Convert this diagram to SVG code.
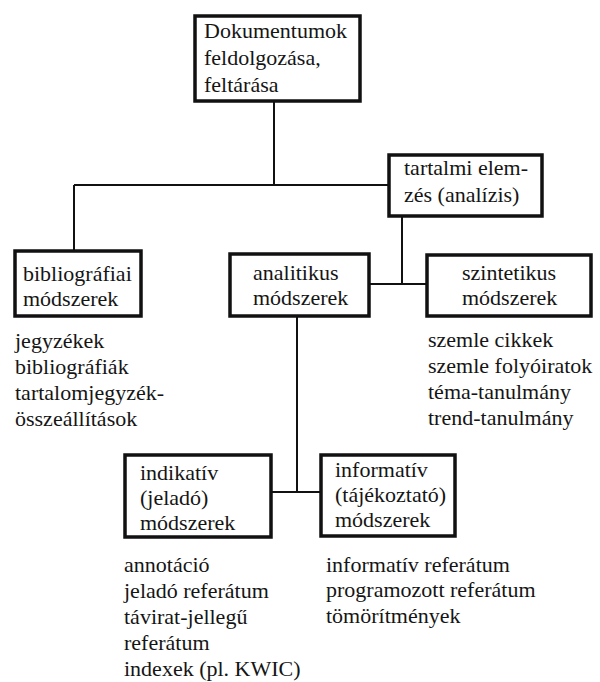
<svg xmlns="http://www.w3.org/2000/svg" width="600" height="682" viewBox="0 0 600 682">
  <style>
    .box { fill: #ffffff; stroke: #111111; stroke-width: 3.5; }
    .wire { fill: none; stroke: #111111; stroke-width: 2; }
    .lbl { font-size: 22px; fill: #151515; }
  </style>
  <rect width="600" height="682" fill="#ffffff"/>

  <!-- connectors -->
  <g id="connectors">
    <path class="wire" d="M274 101 V185"/>
    <path class="wire" d="M74 185 H389"/>
    <path class="wire" d="M74 185 V251"/>
    <path class="wire" d="M402 216 V284"/>
    <path class="wire" d="M369 284 H427"/>
    <path class="wire" d="M297 316 V492"/>
    <path class="wire" d="M271 492 H321"/>
  </g>

  <g font-family="Liberation Serif, DejaVu Serif, serif" class="lbl">
  <g id="root">
    <rect class="box" x="195" y="16" width="165" height="85"/>
    <text x="204" y="38">Dokumentumok</text>
    <text x="204" y="65">feldolgozása,</text>
    <text x="204" y="92">feltárása</text>
  </g>

  <g id="tartalmi">
    <rect class="box" x="389" y="155" width="153" height="61"/>
    <text x="404" y="175">tartalmi elem-</text>
    <text x="404" y="202">zés (analízis)</text>
  </g>

  <g id="bibliografiai">
    <rect class="box" x="15" y="251" width="126" height="65"/>
    <text x="23" y="281">bibliográfiai</text>
    <text x="23" y="306">módszerek</text>
    <text x="15" y="348">jegyzékek</text>
    <text x="15" y="374">bibliográfiák</text>
    <text x="15" y="400">tartalomjegyzék-</text>
    <text x="15" y="426">összeállítások</text>
  </g>

  <g id="analitikus">
    <rect class="box" x="230" y="254" width="139" height="62"/>
    <text x="253" y="280">analitikus</text>
    <text x="253" y="305">módszerek</text>
  </g>

  <g id="szintetikus">
    <rect class="box" x="427" y="255" width="164" height="61"/>
    <text x="462" y="280">szintetikus</text>
    <text x="462" y="305">módszerek</text>
    <text x="428" y="347">szemle cikkek</text>
    <text x="428" y="373">szemle folyóiratok</text>
    <text x="428" y="399">téma-tanulmány</text>
    <text x="428" y="425">trend-tanulmány</text>
  </g>

  <g id="indikativ">
    <rect class="box" x="125" y="455" width="146" height="82"/>
    <text x="140" y="480">indikatív</text>
    <text x="140" y="505">(jeladó)</text>
    <text x="140" y="530">módszerek</text>
    <text x="124" y="572">annotáció</text>
    <text x="124" y="598">jeladó referátum</text>
    <text x="124" y="624">távirat-jellegű</text>
    <text x="124" y="650">referátum</text>
    <text x="124" y="676">indexek (pl. KWIC)</text>
  </g>

  <g id="informativ">
    <rect class="box" x="321" y="455" width="134" height="81"/>
    <text x="335" y="477">informatív</text>
    <text x="335" y="502">(tájékoztató)</text>
    <text x="335" y="527">módszerek</text>
    <text x="326" y="572">informatív referátum</text>
    <text x="326" y="597">programozott referátum</text>
    <text x="326" y="623">tömörítmények</text>
  </g>
  </g>
</svg>
